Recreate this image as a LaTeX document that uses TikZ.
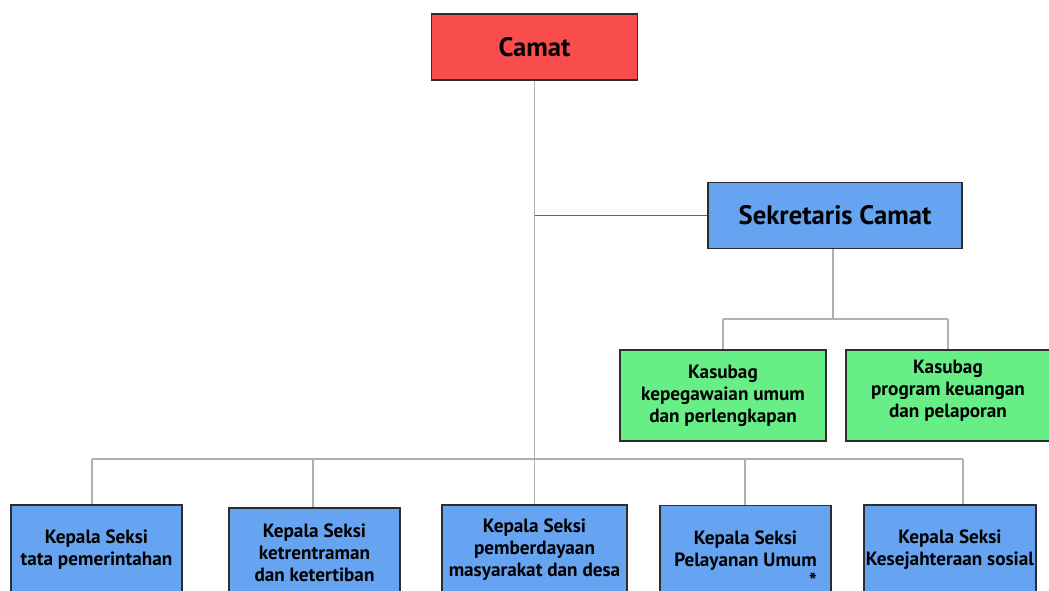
\documentclass[tikz,border=0pt]{standalone}
\usepackage{fontspec}
\setmainfont{PT Sans}
\definecolor{headred}{RGB}{249,77,77}
\definecolor{unitblue}{RGB}{102,163,240}
\definecolor{subgreen}{RGB}{104,238,134}
\definecolor{boxline}{RGB}{45,45,45}
\definecolor{linkgray}{RGB}{176,176,176}
\definecolor{linkdark}{RGB}{100,100,100}
\begin{document}
\begin{tikzpicture}[x=0.75pt,y=-0.75pt,
  box/.style={draw=boxline, line width=1.1pt, inner sep=0pt, align=center,
    font=\bfseries\fontsize{14.4}{16.5}\selectfont},
  headbox/.style={box, font=\bfseries\fontsize{20}{23}\selectfont},
  secbox/.style={box, fill=unitblue, minimum height=67.5pt},
  txt/.style={inner sep=0pt, align=center, font=\bfseries\fontsize{14.4}{16.5}\selectfont},
  conn/.style={draw=linkgray, line width=0.9pt},
  conndark/.style={draw=linkdark, line width=1.1pt}]
\useasboundingbox (0,0) rectangle (1049,590);
\clip (0,0) rectangle (1049,590);

% top level
\node[headbox, fill=headred, minimum width=154.5pt, minimum height=49.5pt]
  (camat) at (534.5,47) {Camat};
\node[headbox, fill=unitblue, minimum width=190.5pt, minimum height=49.5pt]
  (sek) at (835,215.5) {Sekretaris Camat};

% sub-sections under the secretary
\node[box, fill=subgreen, minimum width=154.5pt, minimum height=68.25pt]
  (kas1) at (723,395.5) {Kasubag\\kepegawaian umum\\dan perlengkapan};
\node[box, fill=subgreen, minimum width=153pt, minimum height=68.25pt]
  (kas2) at (948,395.5) {};
\node[txt] (kas2t) at (948,391) {Kasubag\\program keuangan\\dan pelaporan};

% section heads
\node[secbox, minimum width=128.25pt] (tata) at (96.5,550)
  {Kepala Seksi\\tata pemerintahan};
\node[secbox, minimum width=128.25pt] (tib) at (314.5,553)
  {Kepala Seksi\\ketrentraman\\dan ketertiban};
\node[secbox, minimum width=138.75pt] (pem) at (534.5,550)
  {Kepala Seksi\\pemberdayaan\\masyarakat dan desa};
\node[secbox, minimum width=128.25pt] (lay) at (745.5,550.5)
  {Kepala Seksi\\Pelayanan Umum};
\node[secbox, minimum width=129pt] (sos) at (950,550)
  {Kepala Seksi\\Kesejahteraan sosial};
\node[txt, font=\bfseries\fontsize{16}{16}\selectfont, anchor=north]
  (star) at (813,573) {*};

% connector points
\coordinate (b1) at (92,459);
\coordinate (b2) at (313,459);
\coordinate (b4) at (745,459);
\coordinate (b5) at (963,459);
\coordinate (k0) at (833,319);
\coordinate (k1) at (723,319);
\coordinate (k2) at (948,319);

% connectors
\draw[conn] (camat.south) -- (pem.north);
\draw[conn] (b1) -- (b5);
\draw[conn] (b1) -- (tata.north -| b1);
\draw[conn] (b2) -- (tib.north -| b2);
\draw[conn] (b4) -- (lay.north -| b4);
\draw[conn] (b5) -- (sos.north -| b5);
\draw[conndark] (sek.west) -- (sek.west -| camat.south);
\draw[conn] (sek.south -| k0) -- (k0);
\draw[conn] (k1) -- (k2);
\draw[conn] (k1) -- (kas1.north);
\draw[conn] (k2) -- (kas2.north);
\end{tikzpicture}
\end{document}
